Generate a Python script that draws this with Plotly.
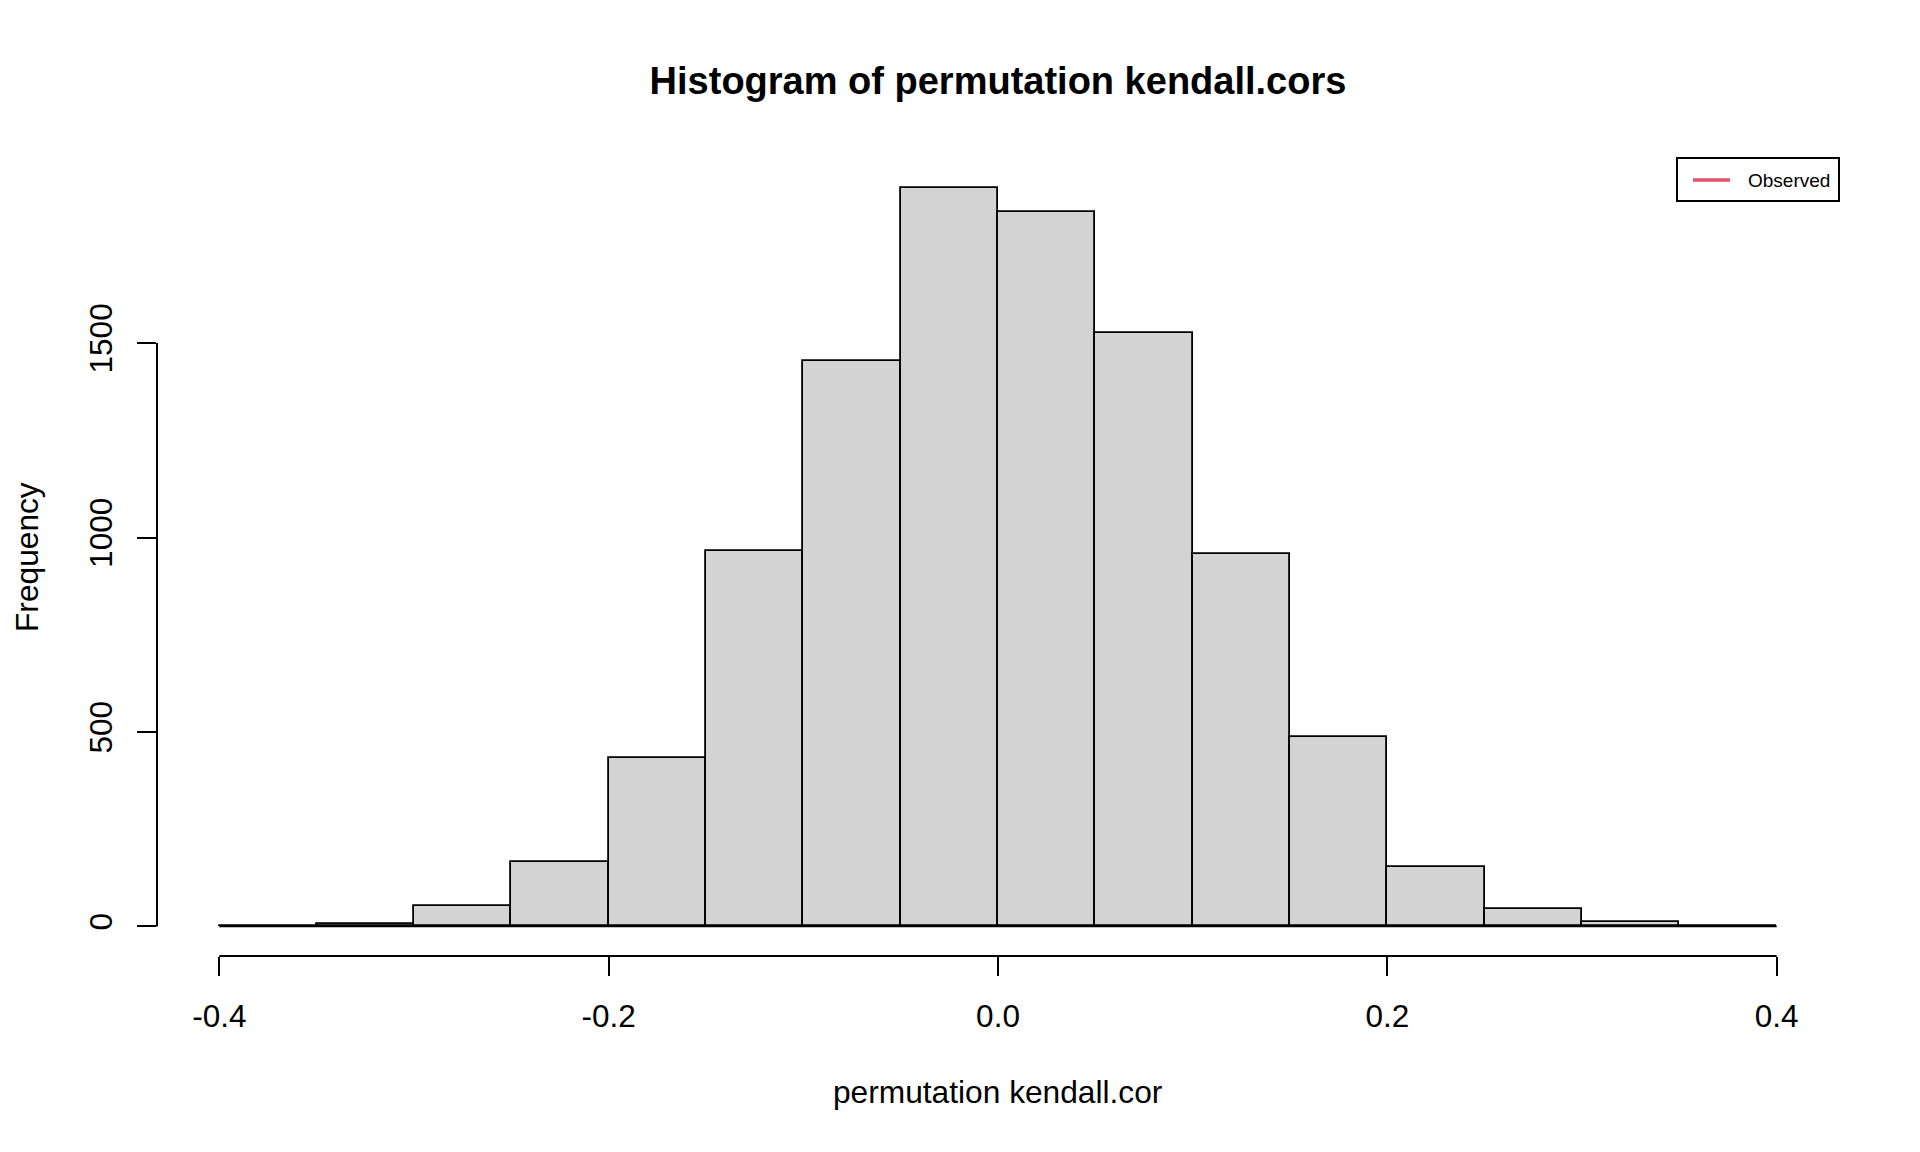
import plotly.graph_objects as go

# Histogram data
bin_edges = [-0.40, -0.35, -0.30, -0.25, -0.20, -0.15, -0.10, -0.05, 0.00,
             0.05, 0.10, 0.15, 0.20, 0.25, 0.30, 0.35, 0.40]
counts = [2, 7, 53, 166, 434, 966, 1455, 1900, 1837, 1527, 958, 488, 152, 44, 11, 0]
x_ticks = [-0.4, -0.2, 0.0, 0.2, 0.4]
x_tick_labels = ["-0.4", "-0.2", "0.0", "0.2", "0.4"]
y_ticks = [0, 500, 1000, 1500]
y_tick_labels = ["0", "500", "1000", "1500"]
legend_label = "Observed"
observed_color = "#DF536B"

centers = [(a + b) / 2 for a, b in zip(bin_edges[:-1], bin_edges[1:])]
widths = [b - a for a, b in zip(bin_edges[:-1], bin_edges[1:])]

FONT = "Liberation Sans, Arial, sans-serif"
W, H = 1920, 1152
L, R, T, B = 149, 89, 150, 204
PW, PH = W - L - R, H - T - B

# R-style 4% padding of axis ranges
xmin, xmax = bin_edges[0], bin_edges[-1]
xpad = 0.04 * (xmax - xmin)
ymax = max(counts)
ypad = 0.04 * ymax

fig = go.Figure()
fig.add_trace(go.Bar(
    x=centers, y=counts, width=widths,
    marker=dict(color="#D3D3D3", line=dict(color="black", width=1.8)),
    showlegend=False, hoverinfo="x+y",
))
# baseline under empty bins (R draws zero-height bars as a line)
fig.add_trace(go.Scatter(
    x=[bin_edges[0], bin_edges[-1]], y=[0, 0], mode="lines",
    line=dict(color="black", width=1.8), showlegend=False, hoverinfo="skip",
))

# axis lines spanning only the tick range (R style)
fig.add_shape(type="line", xref="x", yref="paper", x0=x_ticks[0], x1=x_ticks[-1],
              y0=0, y1=0, line=dict(color="black", width=2))
fig.add_shape(type="line", xref="paper", yref="y", x0=0, x1=0,
              y0=y_ticks[0], y1=y_ticks[-1], line=dict(color="black", width=2))

# legend box (R legend "topright")
leg_w, leg_h = 162 / PW, 43 / PH
fig.add_shape(type="rect", xref="paper", yref="paper",
              x0=1 - leg_w, x1=1, y0=1 - leg_h, y1=1,
              line=dict(color="black", width=2), fillcolor="white")
fig.add_shape(type="line", xref="paper", yref="paper",
              x0=1 - leg_w + 16 / PW, x1=1 - leg_w + 53 / PW,
              y0=1 - 22 / PH, y1=1 - 22 / PH,
              line=dict(color=observed_color, width=3.5))

fig.update_layout(
    width=W, height=H,
    margin=dict(l=L, r=R, t=T, b=B, pad=0),
    paper_bgcolor="white", plot_bgcolor="white",
    bargap=0,
    showlegend=False,
    font=dict(family=FONT, size=31.7, color="black"),
    title=dict(text="<b>Histogram of permutation kendall.cors</b>",
               x=0.5, xref="paper", xanchor="center",
               y=1 - 73 / H, yref="container", yanchor="middle",
               font=dict(family=FONT, size=38, color="black")),
    xaxis=dict(range=[xmin - xpad, xmax + xpad], showgrid=False, zeroline=False,
               showline=False, tickmode="array", tickvals=x_ticks, ticktext=x_tick_labels,
               ticks="outside", ticklen=19, tickwidth=2, tickcolor="black",
               tickfont=dict(size=31.5, family=FONT), ticklabelstandoff=13),
    yaxis=dict(range=[-ypad, ymax + ypad], showgrid=False, zeroline=False,
               showline=False, tickmode="array", tickvals=y_ticks, ticktext=y_tick_labels,
               ticks="outside", ticklen=19, tickwidth=2, tickcolor="black",
               tickangle=-90, tickfont=dict(size=31.5, family=FONT), ticklabelstandoff=12),
    annotations=[
        dict(text="permutation kendall.cor", xref="paper", yref="paper",
             x=0.5, y=-(1084 - (H - B)) / PH, xanchor="center", yanchor="middle",
             showarrow=False, font=dict(size=31.7, family=FONT)),
        dict(text="Frequency", xref="paper", yref="paper", textangle=-90,
             x=(19 - L) / PW, y=0.5, xanchor="center", yanchor="middle",
             showarrow=False, borderpad=0, font=dict(size=31.7, family=FONT)),
        dict(text=legend_label, xref="paper", yref="paper",
             x=1 - leg_w + 69 / PW, y=1 - 22 / PH, xanchor="left", yanchor="middle",
             showarrow=False, font=dict(size=19, family=FONT, color="black")),
    ],
)

fig.write_html("out.html")
